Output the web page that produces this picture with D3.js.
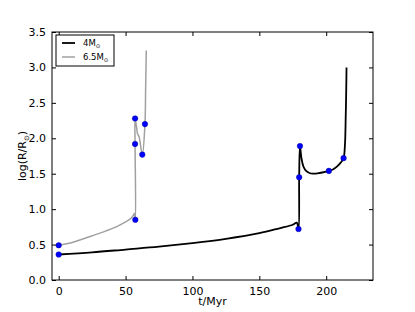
<!DOCTYPE html>
<html>
<head>
<meta charset="utf-8">
<script src="https://cdn.jsdelivr.net/npm/d3@7"></script>
<style>
  body { margin: 0; background: #fff; }
  text { font-family: "DejaVu Sans", sans-serif; }
</style>
</head>
<body>
<div id="container"></div>
<script>
/* CONSTANTS AND GLOBALS */
const width = 415,
  height = 312,
  margin = { top: 32, bottom: 32, left: 52, right: 42 };

/* DATA */
// 4 Msun track: time (Myr) and log(R/Rsun)
const t4 = [0, 25, 50, 75, 100, 125, 150, 165, 175, 178, 179.3, 179.8, 180.4, 181.5, 183, 185, 187.5, 190, 195, 200, 202, 205, 208, 211, 213, 214, 214.6, 215, 215.2];
const r4 = [0.36, 0.39, 0.43, 0.47, 0.52, 0.58, 0.66, 0.73, 0.78, 0.81, 0.72, 1.45, 1.89, 1.72, 1.6, 1.54, 1.51, 1.5, 1.51, 1.53, 1.54, 1.56, 1.6, 1.66, 1.72, 1.9, 2.3, 2.7, 3.0];

// 6.5 Msun track
const t65 = [0, 10, 23, 35, 43, 50, 54, 56, 56.5, 57.3, 57.1, 57.1, 58.3, 59, 60, 62.5, 64.5, 65, 65.5];
const r65 = [0.49, 0.53, 0.61, 0.69, 0.75, 0.82, 0.87, 0.92, 0.94, 0.85, 1.92, 2.28, 2.15, 2.06, 2.03, 1.77, 2.2, 2.7, 3.24];

// marked points
const dot4T = [0, 179.3, 179.8, 180.4, 202, 213];
const dot4R = [0.36, 0.72, 1.45, 1.89, 1.54, 1.72];
const dot65T = [0, 57.3, 57.1, 57.1, 62.5, 64.5];
const dot65R = [0.49, 0.85, 1.92, 2.28, 1.77, 2.2];

const xTicks = [0, 50, 100, 150, 200];
const yTicks = [0, 0.5, 1, 1.5, 2, 2.5, 3, 3.5];

const series = [
  { label: "4M", color: "#000000", width: 1.8, t: t4, r: r4 },
  { label: "6.5M", color: "#a0a0a0", width: 1.5, t: t65, r: r65 }
];

// SCALES
const xScale = d3.scaleLinear()
  .domain([-5, 235])
  .range([margin.left, width - margin.right]);

const yScale = d3.scaleLinear()
  .domain([0, 3.5])
  .range([height - margin.bottom, margin.top]);

// CREATE SVG ELEMENT
const svg = d3.select("#container")
  .append("svg")
  .attr("width", width)
  .attr("height", height);

// LINES
const lineGen = d3.line()
  .x(d => xScale(d[0]))
  .y(d => yScale(d[1]))
  .curve(d3.curveCatmullRom.alpha(0.5));

// draw gray first so black sits on top
[series[1], series[0]].forEach(s => {
  svg.append("path")
    .datum(d3.zip(s.t, s.r))
    .attr("fill", "none")
    .attr("stroke", s.color)
    .attr("stroke-width", s.width)
    .attr("stroke-linejoin", "round")
    .attr("d", lineGen);
});

// DOTS
const dots = d3.zip(dot4T, dot4R).concat(d3.zip(dot65T, dot65R));
svg.selectAll(".dot")
  .data(dots)
  .join("circle")
  .attr("class", "dot")
  .attr("cx", d => xScale(d[0]))
  .attr("cy", d => yScale(d[1]))
  .attr("r", 2.8)
  .attr("fill", "#0000ff")
  .attr("stroke", "#00007f")
  .attr("stroke-width", 0.4);

// AXES (ticks inward on all sides, matplotlib classic look)
const x0 = margin.left, x1 = width - margin.right;
const y0 = height - margin.bottom, y1 = margin.top;

svg.append("g")
  .attr("transform", `translate(0,${y0})`)
  .call(d3.axisBottom(xScale).tickValues(xTicks).tickSize(-4).tickPadding(7).tickFormat(d3.format("d")))
  .call(g => g.select(".domain").remove());

svg.append("g")
  .attr("transform", `translate(0,${y1})`)
  .call(d3.axisTop(xScale).tickValues(xTicks).tickSize(-4).tickFormat(""))
  .call(g => g.select(".domain").remove());

svg.append("g")
  .attr("transform", `translate(${x0},0)`)
  .call(d3.axisLeft(yScale).tickValues(yTicks).tickSize(-4).tickPadding(6).tickFormat(d3.format(".1f")))
  .call(g => g.select(".domain").remove());

svg.append("g")
  .attr("transform", `translate(${x1},0)`)
  .call(d3.axisRight(yScale).tickValues(yTicks).tickSize(-4).tickFormat(""))
  .call(g => g.select(".domain").remove());

svg.selectAll(".tick text")
  .attr("font-size", 11)
  .attr("font-family", "DejaVu Sans, sans-serif")
  .attr("fill", "#000");

// frame
svg.append("rect")
  .attr("x", x0)
  .attr("y", y1)
  .attr("width", x1 - x0)
  .attr("height", y0 - y1)
  .attr("fill", "none")
  .attr("stroke", "#000")
  .attr("stroke-width", 1);

// axis labels
svg.append("text")
  .attr("x", (x0 + x1) / 2)
  .attr("y", 305)
  .attr("text-anchor", "middle")
  .attr("font-size", 11)
  .text("t/Myr");

const yl = svg.append("text")
  .attr("transform", `translate(26,${(y0 + y1) / 2}) rotate(-90)`)
  .attr("text-anchor", "middle")
  .attr("font-size", 11);
yl.append("tspan").text("log(R/R");
yl.append("tspan").attr("font-size", 7).attr("dy", 3).text("\u2299");
yl.append("tspan").attr("dy", -3).text(")");

// LEGEND
const legend = svg.append("g").attr("transform", "translate(56,35)");
legend.append("rect")
  .attr("width", 58)
  .attr("height", 31)
  .attr("fill", "#fff")
  .attr("stroke", "#000")
  .attr("stroke-width", 1);

series.forEach((s, i) => {
  const yy = 8 + i * 14;
  legend.append("line")
    .attr("x1", 6).attr("x2", 19)
    .attr("y1", yy).attr("y2", yy)
    .attr("stroke", s.color)
    .attr("stroke-width", s.width);
  const tx = legend.append("text")
    .attr("x", 27)
    .attr("y", yy + 3)
    .attr("font-size", 8.5);
  tx.append("tspan").text(s.label);
  tx.append("tspan").attr("font-size", 5.5).attr("dy", 2).text("\u2299");
});
</script>
</body>
</html>
